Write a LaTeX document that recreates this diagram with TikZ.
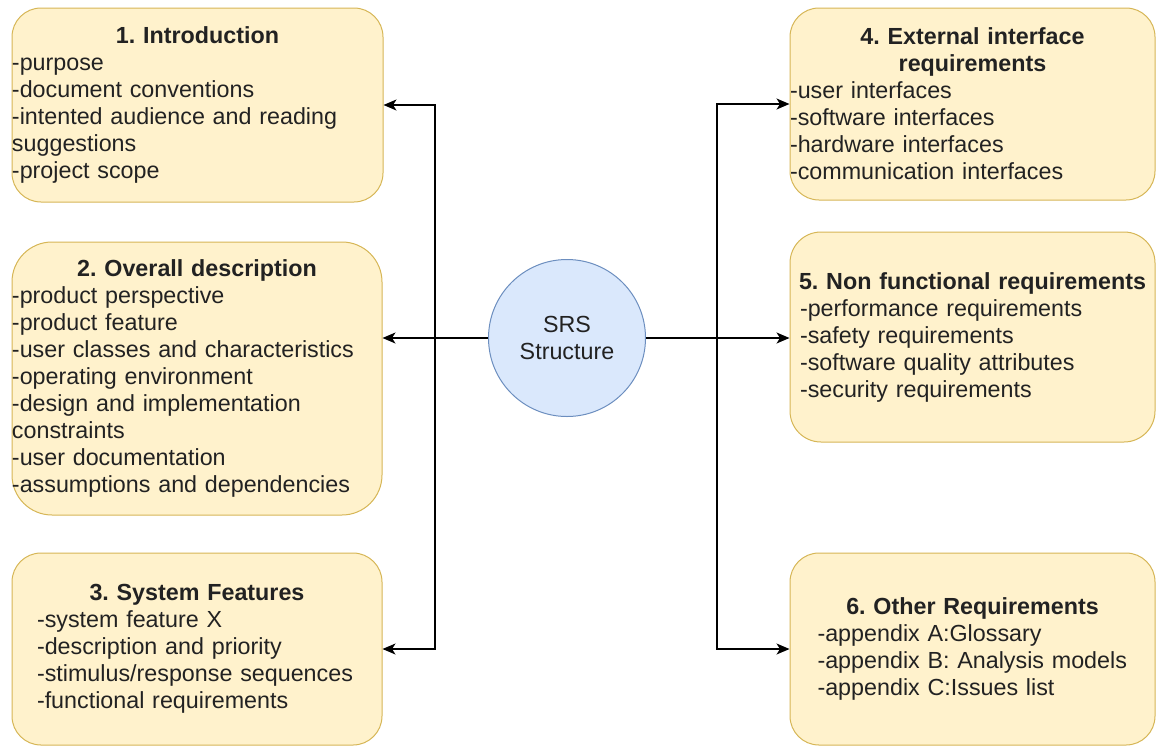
\documentclass[tikz,border=0pt]{standalone}
\usepackage{fontspec}
\setmainfont{Liberation Sans}
\usetikzlibrary{arrows.meta}
\frenchspacing
\definecolor{boxfill}{HTML}{FFF2CC}
\definecolor{boxdraw}{HTML}{D6B656}
\definecolor{cfill}{HTML}{DAE8FC}
\definecolor{cdraw}{HTML}{6C8EBF}
\definecolor{txt}{HTML}{222222}
\tikzset{
  sbox/.style={rectangle, draw=boxdraw, fill=boxfill, line width=1pt, inner xsep=0pt, inner ysep=0pt,
    align=left, text=txt, font=\fontsize{23.3}{27}\selectfont\frenchspacing},
  srsc/.style={circle, draw=cdraw, fill=cfill, line width=1pt, minimum size=157pt, align=center,
    text=txt, font=\fontsize{23.3}{27}\selectfont},
  arr/.style={-{Stealth[length=13pt,width=11pt,inset=3.5pt]}, line width=1.3pt, black}
}
\newcommand{\ttl}[1]{\makebox[\linewidth][c]{\bfseries #1}}
\begin{document}
\begin{tikzpicture}[x=1pt,y=-1pt]
\useasboundingbox (0,0) rectangle (1158,747);
\node[sbox, rounded corners=29pt, text width=371pt, minimum width=371pt, minimum height=194pt] (b1) at (197.5,105)
  {\ttl{1. Introduction}\\-purpose\\-document conventions\\-intented audience and reading\\suggestions\\-project scope};
\node[sbox, rounded corners=40pt, text width=370pt, minimum width=370pt, minimum height=273pt] (b2) at (197,378.5)
  {\ttl{2. Overall description}\\-product perspective\\-product feature\\-user classes and characteristics\\-operating environment\\-design and implementation\\constraints\\-user documentation\\-assumptions and dependencies};
\node[sbox, rounded corners=29pt, text width=320pt, minimum width=370pt, minimum height=192pt] (b3) at (197,649)
  {\ttl{3. System Features}\\-system feature X\\-description and priority\\-stimulus/response sequences\\-functional requirements};
\node[sbox, rounded corners=29pt, text width=365pt, minimum width=365pt, minimum height=192pt] (b4) at (972.5,104)
  {\ttl{4. External interface}\\\ttl{requirements}\\-user interfaces\\-software interfaces\\-hardware interfaces\\-communication interfaces};
\node[sbox, rounded corners=31pt, text width=345pt, minimum width=365pt, minimum height=210pt] (b5) at (972.5,337)
  {\ttl{5. Non functional requirements}\\-performance requirements\\-safety requirements\\-software quality attributes\\-security requirements};
\node[sbox, rounded corners=29pt, text width=310pt, minimum width=365pt, minimum height=192pt] (b6) at (972.5,649)
  {\ttl{6. Other Requirements}\\-appendix A:Glossary\\-appendix B: Analysis models\\-appendix C:Issues list};
\node[srsc] (srs) at (567,338) {SRS\\Structure};
\coordinate (lv) at (435,338);
\coordinate (rv) at (717,338);
\draw[arr] (srs.west) -- (b2.east |- srs.west);
\draw[arr] (lv) |- (b1.east);
\draw[arr] (lv) |- (b3.east);
\draw[arr] (srs.east) -- (b5.west |- srs.east);
\draw[arr] (rv) |- (b4.west);
\draw[arr] (rv) |- (b6.west);
\end{tikzpicture}
\end{document}
